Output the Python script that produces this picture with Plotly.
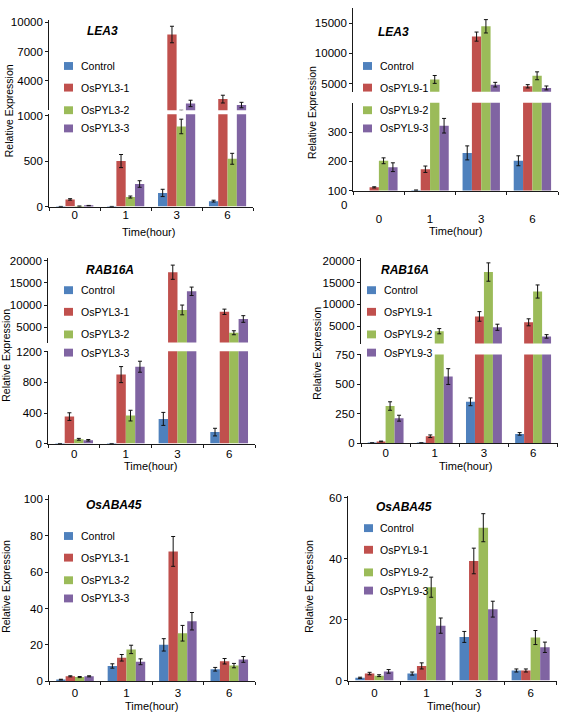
import plotly.graph_objects as go

W, H = 567, 719

# ---------------- data ----------------
times = ["0", "1", "3", "6"]
pyl3_names = ["Control", "OsPYL3-1", "OsPYL3-2", "OsPYL3-3"]
pyl9_names = ["Control", "OsPYL9-1", "OsPYL9-2", "OsPYL9-3"]
colors = ["#4F81BD", "#C0504D", "#9BBB59", "#8064A2"]

# LEA3 - OsPYL3
lea3_pyl3_control = [1, 1, 150, 60]
lea3_pyl3_1 = [79, 500, 8760, 2110]
lea3_pyl3_2 = [4, 105, 880, 525]
lea3_pyl3_3 = [10, 248, 1665, 1500]
lea3_pyl3_err = [[1, 1, 40, 10], [8, 72, 850, 400], [2, 11, 80, 60], [3, 36, 330, 280]]

# LEA3 - OsPYL9
lea3_pyl9_control = [50, 101, 229, 202]
lea3_pyl9_1 = [111, 173, 12760, 4570]
lea3_pyl9_2 = [202, 5700, 14460, 6300]
lea3_pyl9_3 = [180, 322, 4840, 4300]
lea3_pyl9_err = [[0, 1, 24, 17], [2, 11, 750, 270], [10, 650, 1100, 650], [15, 25, 380, 320]]

# RAB16A - OsPYL3
rab_pyl3_control = [1, 1, 323, 150]
rab_pyl3_1 = [353, 903, 17400, 8480]
rab_pyl3_2 = [56, 366, 8900, 3760]
rab_pyl3_3 = [43, 1006, 13100, 6860]
rab_pyl3_err = [[0, 0, 85, 50], [50, 105, 1600, 600], [12, 70, 1100, 450], [10, 72, 950, 750]]

# RAB16A - OsPYL9
rab_pyl9_control = [1, 1, 350, 78]
rab_pyl9_1 = [14, 58, 7250, 5900]
rab_pyl9_2 = [314, 3870, 17400, 12950]
rab_pyl9_3 = [211, 564, 4770, 2680]
rab_pyl9_err = [[0, 0, 33, 11], [3, 11, 1100, 800], [36, 600, 2100, 1500], [25, 67, 700, 400]]

# OsABA45 - OsPYL3
aba_pyl3_control = [0.9, 8.4, 20, 6.6]
aba_pyl3_1 = [2.7, 12.9, 71.4, 11]
aba_pyl3_2 = [2.3, 17.5, 26.4, 8.6]
aba_pyl3_3 = [2.7, 10.7, 33, 12]
aba_pyl3_err = [[0.2, 1.2, 3.4, 1.0], [0.3, 1.8, 8.2, 1.5], [0.3, 2.3, 4.3, 1.2], [0.3, 1.6, 4.8, 1.6]]

# OsABA45 - OsPYL9
aba_pyl9_control = [0.9, 2.3, 14.3, 3.3]
aba_pyl9_1 = [2.3, 4.8, 39.2, 3.3]
aba_pyl9_2 = [1.6, 30.6, 50.1, 14.1]
aba_pyl9_3 = [3.0, 18, 23.4, 10.9]
aba_pyl9_err = [[0.2, 0.5, 1.8, 0.5], [0.4, 1.0, 4.2, 0.5], [0.3, 3.3, 4.6, 2.3], [0.6, 2.5, 2.6, 1.7]]

# tick labels
lea3_pyl3_low_ticks = [0, 500, 1000]
lea3_pyl3_up_ticks = [4000, 7000, 10000]
lea3_pyl9_low_ticks = [100, 200, 300]
lea3_pyl9_up_ticks = [5000, 10000, 15000]
rab_pyl3_low_ticks = [0, 400, 800, 1200]
rab_pyl3_up_ticks = [5000, 10000, 15000, 20000]
rab_pyl9_low_ticks = [0, 250, 500, 750]
rab_pyl9_up_ticks = [5000, 10000, 15000, 20000]
aba_pyl3_ticks = [0, 20, 40, 60, 80, 100]
aba_pyl9_ticks = [0, 20, 40, 60]

FONT = "Arial, Liberation Sans, sans-serif"
AXC = "#1a1a1a"


def px(x):
    return x / W


def py(y):
    return 1 - y / H


panels = [
    dict(gene="LEA3", names=pyl3_names,
         series=[lea3_pyl3_control, lea3_pyl3_1, lea3_pyl3_2, lea3_pyl3_3], err=lea3_pyl3_err,
         xd=(49.3, 253), low=(204, 110), low_range=(0, 1015), low_ticks=lea3_pyl3_low_ticks,
         up=(106, 14), up_range=(965, 10278), up_ticks=lea3_pyl3_up_ticks,
         title=(102, 25), ytitle=(9, 107), xtitle=(148, 230), leg=(64, 79, 61), standoff=-3),
    dict(gene="LEA3", names=pyl9_names,
         series=[lea3_pyl9_control, lea3_pyl9_1, lea3_pyl9_2, lea3_pyl9_3], err=lea3_pyl9_err,
         xd=(353.3, 558), low=(187.7, 98.3), low_range=(100, 401), low_ticks=lea3_pyl9_low_ticks,
         up=(87.3, 1.7), up_range=(3655, 17530), up_ticks=lea3_pyl9_up_ticks,
         title=(393, 26), ytitle=(311.7, 108), xtitle=(455, 229.3), leg=(363, 377.7, 61), standoff=17),
    dict(gene="RAB16A", names=pyl3_names,
         series=[rab_pyl3_control, rab_pyl3_1, rab_pyl3_2, rab_pyl3_3], err=rab_pyl3_err,
         xd=(48.3, 255), low=(445, 351), low_range=(0, 1210), low_ticks=rab_pyl3_low_ticks,
         up=(342.3, 256.7), up_range=(1543, 20510), up_ticks=rab_pyl3_up_ticks,
         title=(110, 268.3), ytitle=(6, 355.7), xtitle=(150, 468.3), leg=(64, 79, 289), standoff=-1),
    dict(gene="RAB16A", names=pyl9_names,
         series=[rab_pyl9_control, rab_pyl9_1, rab_pyl9_2, rab_pyl9_3], err=rab_pyl9_err,
         xd=(361, 557.7), low=(444.5, 354.3), low_range=(0, 752), low_ticks=rab_pyl9_low_ticks,
         up=(343.3, 256.7), up_range=(1042, 20517), up_ticks=rab_pyl9_up_ticks,
         title=(405, 268.3), ytitle=(317.3, 353.3), xtitle=(465, 467.3), leg=(367, 381.7, 289), standoff=-1),
    dict(gene="OsABA45", names=pyl3_names,
         series=[aba_pyl3_control, aba_pyl3_1, aba_pyl3_2, aba_pyl3_3], err=aba_pyl3_err,
         xd=(49.3, 255), low=(686.7, 497.7), low_range=(0, 102.2), low_ticks=aba_pyl3_ticks,
         up=None, title=(114.3, 507.7), ytitle=(6, 590.7), xtitle=(151, 712.3), leg=(64, 79, 539), standoff=1),
    dict(gene="OsABA45", names=pyl9_names,
         series=[aba_pyl9_control, aba_pyl9_1, aba_pyl9_2, aba_pyl9_3], err=aba_pyl9_err,
         xd=(348.3, 556.7), low=(686, 498.3), low_range=(0, 60.5), low_ticks=aba_pyl9_ticks,
         up=None, title=(404.3, 509.3), ytitle=(309, 590.7), xtitle=(453.3, 711.7), leg=(364, 377.7, 531), standoff=1),
]

leg_offsets = [0, 22, 45, 63.5]

fig = go.Figure()
layout = {}
annotations = []
shapes = []
ycount = 0


def axkey(letter, n):
    return f"{letter}axis" if n == 1 else f"{letter}axis{n}"


def ref(letter, n):
    return letter if n == 1 else f"{letter}{n}"


def yaxis_dict(dom, rng, ticks, xref):
    return dict(domain=[py(dom[0]), py(dom[1])], anchor=xref, range=list(rng),
                tickmode="array", tickvals=ticks, ticktext=[str(t) for t in ticks],
                showline=True, linecolor=AXC, linewidth=1.3, ticks="outside", ticklen=3,
                tickwidth=1, tickcolor=AXC, showgrid=False, zeroline=False,
                tickfont=dict(family=FONT, size=11.5, color="black"), fixedrange=True)


for i, p in enumerate(panels, start=1):
    xr = ref("x", i)
    ycount += 1
    low_n = ycount
    low_ref = ref("y", low_n)
    layout[axkey("x", i)] = dict(
        domain=[px(p["xd"][0]), px(p["xd"][1])], anchor=low_ref, type="category",
        categoryorder="array", categoryarray=times, range=[-0.5, 3.5],
        showline=True, linecolor=AXC, linewidth=1.3, ticks="outside", ticklen=3,
        tickwidth=1, tickcolor=AXC, tickson="boundaries", showgrid=False, zeroline=False,
        tickfont=dict(family=FONT, size=11.5, color="black"), fixedrange=True,
        ticklabelstandoff=p["standoff"])
    layout[axkey("y", low_n)] = yaxis_dict(p["low"], p["low_range"], p["low_ticks"], xr)
    yrefs = [low_ref]
    if p["up"] is not None:
        ycount += 1
        up_n = ycount
        layout[axkey("y", up_n)] = yaxis_dict(p["up"], p["up_range"], p["up_ticks"], xr)
        yrefs.append(ref("y", up_n))

    for yr in yrefs:
        for j, vals in enumerate(p["series"]):
            fig.add_trace(go.Bar(
                x=times, y=vals, xaxis=xr, yaxis=yr, name=p["names"][j],
                marker=dict(color=colors[j], line=dict(width=0)),
                error_y=dict(type="data", array=p["err"][j], color="#111111",
                             thickness=1, width=2),
                showlegend=False, hoverinfo="x+y+name"))

    annotations.append(dict(x=px(p["title"][0]), y=py(p["title"][1]), xref="paper", yref="paper",
                            text=f"<b><i>{p['gene']}</i></b>", showarrow=False,
                            xanchor="center", yanchor="middle",
                            font=dict(family=FONT, size=12, color="black")))
    annotations.append(dict(x=px(p["ytitle"][0]), y=py(p["ytitle"][1]), xref="paper", yref="paper",
                            text="Relative Expression", textangle=-90, showarrow=False,
                            xanchor="center", yanchor="middle",
                            font=dict(family=FONT, size=10.5, color="black")))
    annotations.append(dict(x=px(p["xtitle"][0]), y=py(p["xtitle"][1]), xref="paper", yref="paper",
                            text="Time(hour)", showarrow=False,
                            xanchor="center", yanchor="middle",
                            font=dict(family=FONT, size=11, color="black")))
    sx, tx, ty = p["leg"]
    for j, name in enumerate(p["names"]):
        yc = ty + leg_offsets[j]
        shapes.append(dict(type="rect", xref="paper", yref="paper",
                           x0=px(sx), x1=px(sx + 9), y0=py(yc + 4), y1=py(yc - 4),
                           fillcolor=colors[j], line=dict(width=0)))
        annotations.append(dict(x=px(tx), y=py(yc), xref="paper", yref="paper",
                                text=name, showarrow=False, xanchor="left", yanchor="middle",
                                font=dict(family=FONT, size=10.5, color="black")))

# stray "0" label below the LEA3 / OsPYL9 axis
annotations.append(dict(x=px(349), y=py(202.7), xref="paper", yref="paper", text="0",
                        showarrow=False, xanchor="right", yanchor="middle",
                        font=dict(family=FONT, size=11.5, color="black")))

fig.update_layout(
    width=W, height=H, margin=dict(l=0, r=0, t=0, b=0),
    paper_bgcolor="white", plot_bgcolor="white",
    barmode="group", bargap=0.27, bargroupgap=0,
    showlegend=False, annotations=annotations, shapes=shapes,
    font=dict(family=FONT, size=11, color="black"),
    **layout)

POST = ("var d=document.getElementById('{plot_id}');"
        "d.style.position='fixed';d.style.left='0px';d.style.top='0px';"
        "document.body.style.margin='0';document.body.style.overflow='hidden';"
        "document.documentElement.style.overflow='hidden';")

fig.write_html("out.html", config={"displayModeBar": False}, post_script=POST)
